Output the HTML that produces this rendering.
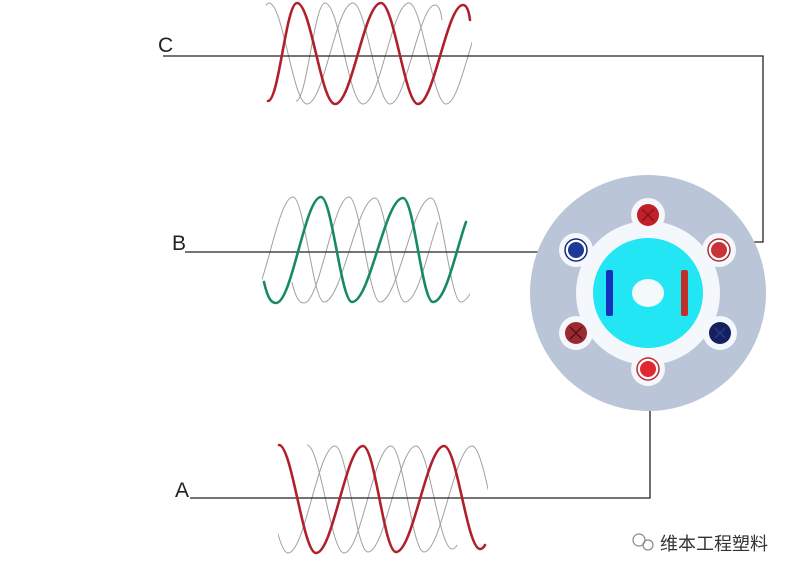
<!DOCTYPE html>
<html><head><meta charset="utf-8"><style>
html,body{margin:0;padding:0;background:#fff;}
svg{display:block}
</style></head><body>
<svg width="800" height="577" viewBox="0 0 800 577" xmlns="http://www.w3.org/2000/svg">
<defs>
<path id="wc" d="M268,101 C279,101 286,3 297,3 C311,3 321,104 335,104 C352,104 364,3 381,3 C394,3 405,104 418,104 C434,104 447,5 463,5 C467,5 469,12 470,20"/>
<path id="wb" d="M264,282 C268,300 272,303 276,303 C292,303 305,197 321,197 C332,197 341,302 352,302 C370,302 385,198 403,198 C414,198 422,302 433,302 C446,302 456,250 466,222"/>
<path id="wa" d="M279,445 C292,445 303,553 316,553 C333,553 346,446 363,446 C375,446 384,552 396,552 C413,552 427,446 444,446 C457,446 467,549 480,549 C482,549 484,547 485,545"/>
<clipPath id="cc"><rect x="266" y="0" width="206" height="110"/></clipPath>
<clipPath id="cb"><rect x="262" y="190" width="208" height="120"/></clipPath>
<clipPath id="ca"><rect x="278" y="438" width="210" height="120"/></clipPath>
</defs>
<g fill="none" stroke="#a0a0a0" stroke-width="1">
<g clip-path="url(#cc)"><use href="#wc" transform="translate(-28,0)"/><use href="#wc" transform="translate(28,0)"/></g>
<g clip-path="url(#cb)"><use href="#wb" transform="translate(-28,0)"/><use href="#wb" transform="translate(28,0)"/></g>
<g clip-path="url(#ca)"><use href="#wa" transform="translate(-28,0)"/><use href="#wa" transform="translate(28,0)"/></g>
</g>
<g fill="none" stroke="#222" stroke-width="1.3">
<polyline points="163,56 763,56 763,242 732,242"/>
<polyline points="185,252 566,252"/>
<polyline points="190,498 650,498 650,380"/>
</g>
<g fill="none" stroke-width="2.6" stroke-linecap="round">
<use href="#wc" stroke="#b0202c"/>
<use href="#wb" stroke="#168a68"/>
<use href="#wa" stroke="#b0202c"/>
</g>
<circle cx="648" cy="293" r="118" fill="#bac5d7"/>
<circle cx="648" cy="293" r="72" fill="#f4f7fb"/>
<g fill="#f4f7fb">
<circle cx="648" cy="215" r="17"/><circle cx="719" cy="250" r="17"/><circle cx="576" cy="250" r="17"/>
<circle cx="576" cy="333" r="17"/><circle cx="720" cy="333" r="17"/><circle cx="648" cy="369" r="17"/>
</g>
<circle cx="648" cy="293" r="55" fill="#22e6f4"/>
<ellipse cx="648" cy="293" rx="16" ry="14" fill="#f4f9fc"/>
<rect x="606" y="270" width="7" height="46" rx="2" fill="#1530c0"/>
<rect x="681" y="270" width="7" height="46" rx="2" fill="#c03028"/>
<g>
<circle cx="648" cy="215" r="11" fill="#c0202a"/>
<path d="M642,209 L654,221 M654,209 L642,221" stroke="#8a1018" stroke-width="1.5"/>
<circle cx="719" cy="250" r="11" fill="#fff" stroke="#b03030" stroke-width="1.5"/><circle cx="719" cy="250" r="8" fill="#c8333a"/>
<circle cx="576" cy="250" r="11" fill="#fff" stroke="#1a2a70" stroke-width="1.5"/><circle cx="576" cy="250" r="8" fill="#1c3a9a"/>
<circle cx="576" cy="333" r="11" fill="#9a2a30"/>
<path d="M570,327 L582,339 M582,327 L570,339" stroke="#5a1018" stroke-width="1.5"/>
<circle cx="720" cy="333" r="11" fill="#142060"/>
<path d="M715,328 L725,338 M725,328 L715,338" stroke="#2a3a80" stroke-width="1.5"/>
<circle cx="648" cy="369" r="11" fill="#fff" stroke="#c02a30" stroke-width="1.5"/><circle cx="648" cy="369" r="8" fill="#e02830"/>
</g>
<g font-family="Liberation Sans, sans-serif" font-size="21" fill="#222">
<text x="158" y="52">C</text>
<text x="172" y="250">B</text>
<text x="175" y="497">A</text>
</g>
<g fill="none" stroke="#888" stroke-width="1.2">
<circle cx="639" cy="540" r="6"/><circle cx="648" cy="545" r="5"/>
</g>
<text x="660" y="550" font-family="Liberation Sans, 'Noto Sans CJK SC', sans-serif" font-size="18" fill="#333">维本工程塑料</text>
</svg>
</body></html>
